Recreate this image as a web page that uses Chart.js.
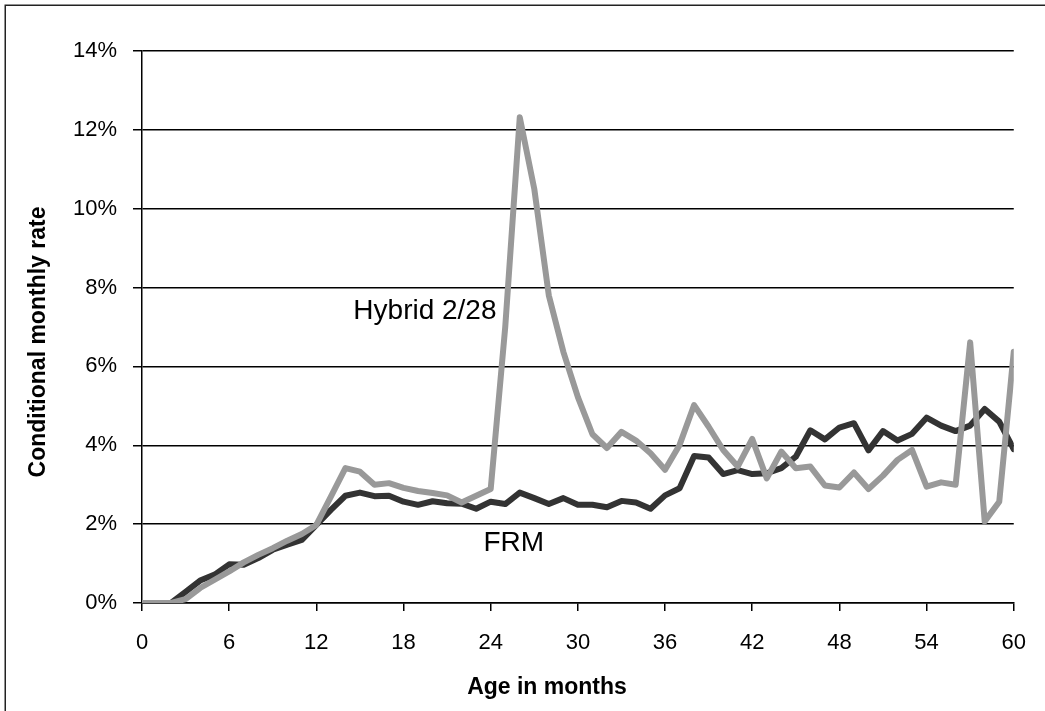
<!DOCTYPE html>
<html>
<head>
<meta charset="utf-8">
<title>Conditional monthly rate</title>
<script src="https://cdn.jsdelivr.net/npm/chart.js@4/dist/chart.umd.min.js"></script>
<style>
  html, body { margin: 0; padding: 0; background: #fff; }
  #wrap { width: 1045px; height: 711px; position: relative; }
</style>
</head>
<body>
<div id="wrap"><canvas id="rateChart"></canvas></div>
<script>
// age in months (x axis)
const months = [0, 1, 2, 3, 4, 5, 6, 7, 8, 9, 10, 11, 12, 13, 14, 15, 16, 17, 18, 19, 20,
  21, 22, 23, 24, 25, 26, 27, 28, 29, 30, 31, 32, 33, 34, 35, 36, 37, 38, 39, 40,
  41, 42, 43, 44, 45, 46, 47, 48, 49, 50, 51, 52, 53, 54, 55, 56, 57, 58, 59, 60];

// conditional monthly rate, in percent
const hybridRate = [0, 0, 0, 0.1, 0.38, 0.59, 0.8, 1.03, 1.22, 1.39, 1.58,
  1.75, 1.98, 2.7, 3.42, 3.33, 3.0, 3.04, 2.92, 2.84, 2.79,
  2.73, 2.55, 2.72, 2.89, 7.0, 12.32, 10.5, 7.8, 6.37, 5.22,
  4.28, 3.93, 4.34, 4.12, 3.8, 3.38, 4.01, 5.02, 4.47, 3.88,
  3.46, 4.16, 3.16, 3.84, 3.42, 3.46, 2.98, 2.93, 3.31, 2.89,
  3.23, 3.63, 3.88, 2.95, 3.06, 3.0, 6.61, 2.07, 2.57, 6.37];

const frmRate = [0, 0, 0, 0.28, 0.57, 0.72, 0.98, 0.97, 1.14, 1.35, 1.48,
  1.6, 1.98, 2.36, 2.72, 2.8, 2.71, 2.72, 2.57, 2.49, 2.58,
  2.53, 2.52, 2.39, 2.57, 2.51, 2.8, 2.66, 2.51, 2.66, 2.49,
  2.49, 2.43, 2.59, 2.55, 2.39, 2.73, 2.91, 3.73, 3.69, 3.27,
  3.37, 3.27, 3.29, 3.42, 3.71, 4.38, 4.15, 4.45, 4.56, 3.87,
  4.36, 4.12, 4.29, 4.7, 4.5, 4.36, 4.5, 4.92, 4.6, 3.9];

const xTicks = [0, 6, 12, 18, 24, 30, 36, 42, 48, 54, 60];
const yTicks = [0, 2, 4, 6, 8, 10, 12, 14];

const FONT = '"Liberation Sans", Arial, sans-serif';

const toPoints = (vals) => vals.map((v, i) => ({ x: months[i], y: v }));

// frame, axis titles and the two in-plot labels
const textPlugin = {
  id: 'textPlugin',
  afterDraw(chart) {
    const ctx = chart.ctx;
    const xs = chart.scales.x, ys = chart.scales.y;
    ctx.save();
    ctx.strokeStyle = '#222';
    ctx.lineWidth = 1.5;
    ctx.beginPath();
    ctx.moveTo(5.25, chart.height);
    ctx.lineTo(5.25, 5.25);
    ctx.lineTo(chart.width, 5.25);
    ctx.stroke();

    ctx.fillStyle = '#000';
    ctx.font = 'bold 23px ' + FONT;
    ctx.textAlign = 'center';
    ctx.textBaseline = 'alphabetic';
    ctx.fillText('Age in months', 547, 694);

    ctx.translate(45, 342);
    ctx.rotate(-Math.PI / 2);
    ctx.fillText('Conditional monthly rate', 0, 0);
    ctx.setTransform(1, 0, 0, 1, 0, 0);

    ctx.font = '28px ' + FONT;
    ctx.textAlign = 'right';
    ctx.fillText('Hybrid 2/28', xs.getPixelForValue(24.4), ys.getPixelForValue(7.2));
    ctx.textAlign = 'left';
    ctx.fillText('FRM', xs.getPixelForValue(23.5), ys.getPixelForValue(1.32));
    ctx.restore();
  }
};

new Chart(document.getElementById('rateChart'), {
  type: 'line',
  data: {
    datasets: [
      {
        label: 'Hybrid 2/28',
        data: toPoints(hybridRate),
        borderColor: '#999999',
        borderWidth: 6,
        order: 0
      },
      {
        label: 'FRM',
        data: toPoints(frmRate),
        borderColor: '#333333',
        borderWidth: 6,
        order: 1
      }
    ]
  },
  options: {
    responsive: true,
    maintainAspectRatio: false,
    animation: false,
    layout: { padding: { left: 0, right: 31, top: 51, bottom: 0 } },
    elements: {
      point: { radius: 0 },
      line: { tension: 0, borderJoinStyle: 'round', borderCapStyle: 'round' }
    },
    plugins: {
      legend: { display: false },
      tooltip: { enabled: false }
    },
    scales: {
      x: {
        type: 'linear',
        min: 0,
        max: 60,
        afterBuildTicks: (scale) => { scale.ticks = xTicks.map(v => ({ value: v })); },
        afterFit: (scale) => { scale.height = 108; },
        ticks: { color: '#000', font: { family: FONT, size: 22 }, padding: 19, maxRotation: 0 },
        grid: { drawOnChartArea: false, drawTicks: true, tickLength: 8, color: '#000', lineWidth: 1.5 },
        border: { color: '#000', width: 1.5 }
      },
      y: {
        min: 0,
        max: 14,
        afterBuildTicks: (scale) => { scale.ticks = yTicks.map(v => ({ value: v })); },
        afterFit: (scale) => { scale.width = 142; },
        ticks: { color: '#000', font: { family: FONT, size: 22 }, padding: 16, callback: (v) => v + '%' },
        grid: { color: '#000', lineWidth: 1.5, tickLength: 9 },
        border: { color: '#000', width: 1.5 }
      }
    }
  },
  plugins: [textPlugin]
});
</script>
</body>
</html>
